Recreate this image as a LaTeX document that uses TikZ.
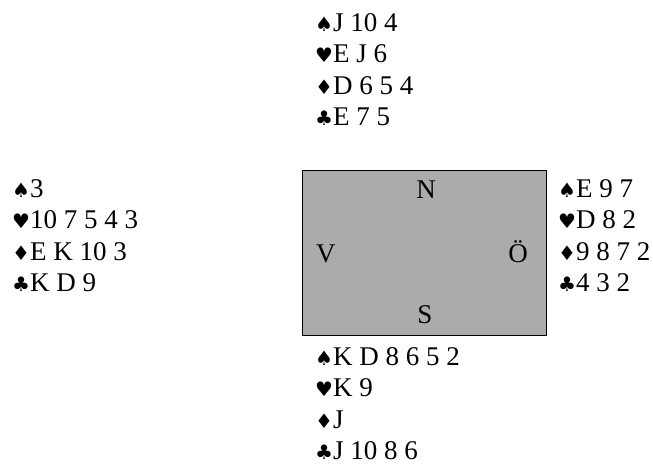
\documentclass[tikz,border=0pt]{standalone}
\usepackage{fontspec}
\setmainfont{Liberation Serif}
\newfontfamily\suitfont{DejaVu Sans}
\newcommand{\suit}[1]{{\suitfont\fontsize{20}{20}\selectfont #1}}
\newcommand{\Sp}{\suit{♠}}
\newcommand{\Hj}{\suit{♥}}
\newcommand{\Ru}{\suit{♦}}
\newcommand{\Kl}{\suit{♣}}
\tikzset{
  hand/.style={anchor=base west, inner sep=0pt, font=\fontsize{27}{31.5}\selectfont},
  seat/.style={inner sep=0pt, font=\fontsize{27}{31.5}\selectfont},
}

\begin{document}
\begin{tikzpicture}[x=1pt,y=-1pt]
\useasboundingbox (0,0) rectangle (653,466);

% bordet
\node (bord) [draw, line width=1.4pt, fill=black!33, minimum width=244pt,
  minimum height=165pt, inner sep=0pt, anchor=north west] at (302,170) {};

\node (N) [seat, anchor=base] at (426,198) {N};
\node (S) [seat, anchor=base] at (425,323) {S};
\node (V) [seat, anchor=base west] at (316,262) {V};
\node (O) [seat, anchor=base east] at (528,262) {Ö};

% händerna
\node (nord) [hand] at (315,31) {\begin{tabular}[t]{@{}l@{}}
  \Sp J 10 4\\ \Hj E J 6\\ \Ru D 6 5 4\\ \Kl E 7 5\end{tabular}};
\node (vast) [hand] at (12,197) {\begin{tabular}[t]{@{}l@{}}
  \Sp 3\\ \Hj 10 7 5 4 3\\ \Ru E K 10 3\\ \Kl K D 9\end{tabular}};
\node (ost) [hand] at (558,197) {\begin{tabular}[t]{@{}l@{}}
  \Sp E 9 7\\ \Hj D 8 2\\ \Ru 9 8 7 2\\ \Kl 4 3 2\end{tabular}};
\node (syd) [hand] at (315,365) {\begin{tabular}[t]{@{}l@{}}
  \Sp K D 8 6 5 2\\ \Hj K 9\\ \Ru J\\ \Kl J 10 8 6\end{tabular}};

\end{tikzpicture}
\end{document}
